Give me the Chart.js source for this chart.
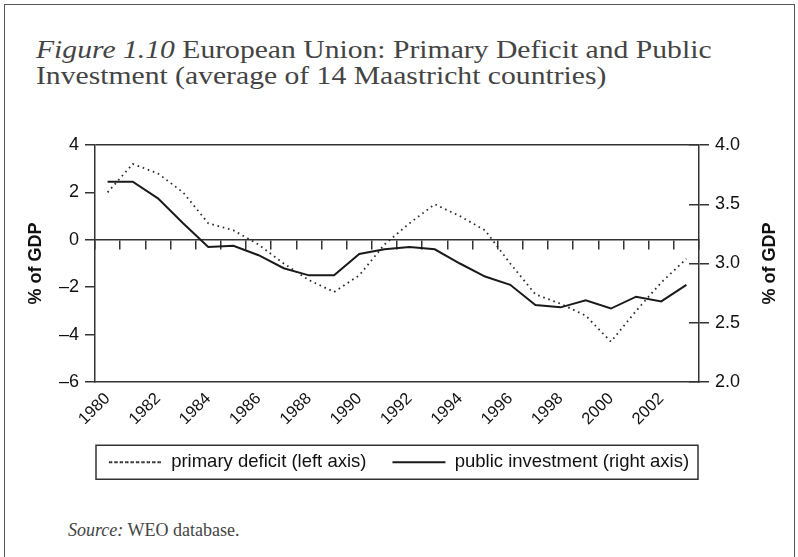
<!DOCTYPE html>
<html lang="en">
<head>
<meta charset="UTF-8">
<title>Figure 1.10</title>
<script src="https://cdn.jsdelivr.net/npm/chart.js"></script>
<style>
  body { margin: 0; width: 798px; height: 557px; overflow: hidden; background: #fff; position: relative; }
  .frame { position: absolute; left: 4px; top: 4px; width: 789px; height: 600px; border: 1.5px solid #555; }
  .titulo { position: absolute; left: 36px; top: 37px; font: 26px/26.4px "Liberation Serif", "Times New Roman", serif; color: #444; white-space: nowrap; transform: scaleX(1.14); transform-origin: 0 0; }
  .grafico { position: absolute; left: 0; top: 120px; width: 798px; height: 380px; }
  .fonte { position: absolute; left: 68px; top: 520px; font: 18px/20px "Liberation Serif", "Times New Roman", serif; color: #444; }
</style>
</head>
<body>
<div class="frame"></div>
<div class="titulo"><i>Figure 1.10</i> European Union: Primary Deficit and Public<br>Investment (average of 14 Maastricht countries)</div>
<div class="grafico"><canvas id="grafico"></canvas></div>
<div class="fonte"><i>Source:</i> WEO database.</div>

<script>
// dados
const years = ['1980','1981','1982','1983','1984','1985','1986','1987','1988','1989','1990','1991',
               '1992','1993','1994','1995','1996','1997','1998','1999','2000','2001','2002','2003'];
const yearTicks = ['1980','1982','1984','1986','1988','1990','1992','1994','1996','1998','2000','2002'];

// primary deficit, % of GDP (left axis)
const primaryDeficit = [2.0, 3.2, 2.8, 2.0, 0.7, 0.4, -0.2, -1.0, -1.7, -2.2, -1.5, -0.2,
                        0.7, 1.5, 1.0, 0.4, -1.0, -2.3, -2.7, -3.2, -4.3, -3.0, -1.8, -0.8];
// public investment, % of GDP (right axis)
const publicInvestment = [3.69, 3.69, 3.55, 3.34, 3.14, 3.15, 3.07, 2.96, 2.90, 2.90, 3.08, 3.12,
                          3.14, 3.12, 3.00, 2.89, 2.82, 2.65, 2.63, 2.69, 2.62, 2.72, 2.68, 2.82];

const leftRange = [-6, 4];
const rightRange = [2, 4];

const linha = '#2a2a2a';
const fonteEixo = { family: '"Liberation Sans", Arial, sans-serif', size: 18 };

function menos(v) {
  return String(v).replace('-', '\u2013');
}

// borda em volta da legenda e titulo do eixo direito (que le de baixo pra cima)
const extras = {
  id: 'extras',
  afterDraw(chart) {
    const ctx = chart.ctx;
    const area = chart.chartArea;
    const lg = chart.legend;
    if (lg && lg.legendHitBoxes.length) {
      const hb = lg.legendHitBoxes[0];
      const cy = hb.top + hb.height / 2;
      ctx.save();
      ctx.strokeStyle = '#333';
      ctx.lineWidth = 1.5;
      ctx.strokeRect(area.left + 1, cy - 17, area.right - area.left - 2, 34);
      ctx.restore();
    }
    const dir = chart.scales.y1;
    ctx.save();
    ctx.translate(dir.right - 28, (area.top + area.bottom) / 2);
    ctx.rotate(-Math.PI / 2);
    ctx.font = 'bold 18px "Liberation Sans", Arial, sans-serif';
    ctx.fillStyle = '#111';
    ctx.textAlign = 'center';
    ctx.textBaseline = 'middle';
    ctx.fillText('% of GDP', 0, 0);
    ctx.restore();
  }
};

const dados = {
  labels: years,
  datasets: [
    {
      label: 'primary deficit (left axis)',
      data: primaryDeficit,
      yAxisID: 'y',
      borderColor: linha,
      backgroundColor: 'rgba(0,0,0,0)',
      borderWidth: 1.8,
      borderDash: [1.6, 3.8],
      pointRadius: 0,
      tension: 0
    },
    {
      label: 'public investment (right axis)',
      data: publicInvestment,
      yAxisID: 'y1',
      borderColor: '#1a1a1a',
      backgroundColor: 'rgba(0,0,0,0)',
      borderWidth: 2,
      pointRadius: 0,
      tension: 0
    }
  ]
};

const config = {
  type: 'line',
  data: dados,
  plugins: [extras],
  options: {
    responsive: true,
    maintainAspectRatio: false,
    animation: false,
    layout: { padding: { left: 0, right: 0, top: 25, bottom: 18.5 } },
    plugins: {
      tooltip: { enabled: false },
      legend: {
        position: 'bottom',
        labels: {
          boxWidth: 53,
          boxHeight: 0,
          padding: 26,
          color: '#111',
          font: { family: fonteEixo.family, size: 18.5 }
        }
      }
    },
    scales: {
      x: {
        type: 'category',
        position: 'bottom',
        offset: true,
        grid: { display: false, tickLength: 7 },
        border: { display: true, color: '#333', width: 1.5 },
        ticks: {
          autoSkip: false,
          minRotation: 45,
          maxRotation: 45,
          padding: 0,
          color: '#111',
          font: { family: fonteEixo.family, size: 16.5 },
          callback: function (v, i) {
            return yearTicks.includes(years[i]) ? years[i] : '';
          }
        },
        afterFit: function (s) { s.height = 45; }
      },
      // linha do zero com os tracinhos entre os anos
      x2: {
        type: 'category',
        position: { y: 0 },
        offset: true,
        grid: { offset: true, drawOnChartArea: false, tickLength: 9, color: '#333', lineWidth: 1.5 },
        border: { display: true, color: '#333', width: 1.5 },
        ticks: { display: false, autoSkip: false }
      },
      y: {
        position: 'left',
        min: leftRange[0],
        max: leftRange[1],
        grid: {
          color: function (c) { return c.tick && c.tick.value === leftRange[1] ? '#333' : 'rgba(0,0,0,0)'; },
          lineWidth: 1.5,
          tickColor: '#333',
          tickLength: 10
        },
        border: { display: true, color: '#333', width: 1.5 },
        ticks: {
          stepSize: 2,
          padding: 6,
          color: '#111',
          font: fonteEixo,
          callback: function (v) { return menos(v); }
        },
        title: {
          display: true,
          text: '% of GDP',
          color: '#111',
          padding: { top: 25, bottom: 0 },
          font: { family: fonteEixo.family, size: 18, weight: 'bold' }
        },
        afterFit: function (s) { s.width = 95; }
      },
      y1: {
        position: 'right',
        min: rightRange[0],
        max: rightRange[1],
        grid: { drawOnChartArea: false, color: '#333', lineWidth: 1.5, tickLength: 10 },
        border: { display: true, color: '#333', width: 1.5 },
        ticks: {
          stepSize: 0.5,
          padding: 6,
          color: '#111',
          font: fonteEixo,
          callback: function (v) { return Number(v).toFixed(1); }
        },
        afterFit: function (s) { s.width = 99; }
      },
      // tracinhos do eixo direito para dentro do grafico
      yin: {
        position: { x: years.length - 0.5 },
        min: rightRange[0],
        max: rightRange[1],
        grid: { drawOnChartArea: false, color: '#333', lineWidth: 1.5, tickLength: 10 },
        border: { display: false },
        ticks: { display: false, stepSize: 0.5 }
      }
    }
  }
};

new Chart(document.getElementById('grafico'), config);
</script>
</body>
</html>
